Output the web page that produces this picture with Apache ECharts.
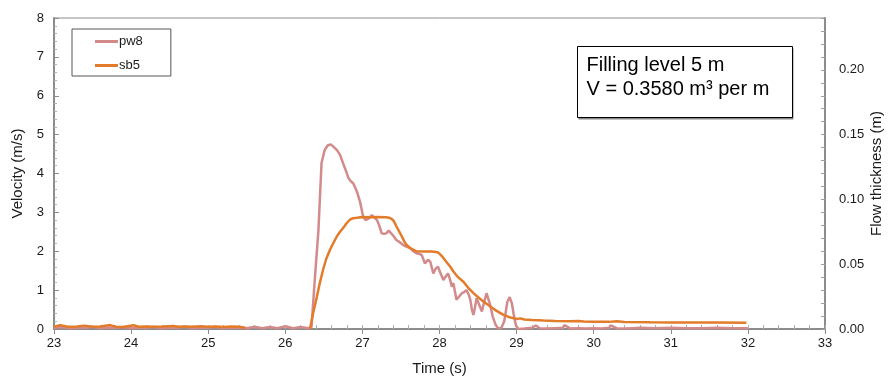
<!DOCTYPE html>
<html>
<head>
<meta charset="utf-8">
<script src="https://cdn.jsdelivr.net/npm/echarts@6/dist/echarts.min.js"></script>
<style>
html,body{margin:0;padding:0;background:#fff;overflow:hidden;}
#chart{width:890px;height:377px;}
</style>
</head>
<body>
<div id="chart"></div>
<script>
// ---- Data ----
const seriesNames = ['pw8', 'sb5'];
const xTicks = [23, 24, 25, 26, 27, 28, 29, 30, 31, 32, 33];
const leftTicks = [0, 1, 2, 3, 4, 5, 6, 7, 8];
const rightTicks = [0.00, 0.05, 0.10, 0.15, 0.20];

// pw8: velocity (m/s) vs time (s)
const pw8Time = [
  23.0, 23.1, 23.2, 23.3, 23.4, 23.5, 23.6, 23.7, 23.8, 23.9,
  24.0, 24.1, 24.2, 24.3, 24.4, 24.5, 24.6, 24.7, 24.8, 24.9,
  25.0, 25.1, 25.2, 25.3, 25.4, 25.5, 25.6, 25.7, 25.8, 25.9,
  26.0, 26.1, 26.2, 26.3,
  26.34, 26.38, 26.43, 26.47, 26.51, 26.55, 26.59, 26.63, 26.67, 26.71,
  26.75, 26.79, 26.82, 26.85, 26.88, 26.91, 26.93, 26.97, 27.01, 27.04,
  27.06, 27.09, 27.12, 27.15, 27.19, 27.22, 27.25, 27.28, 27.31, 27.34,
  27.36, 27.40, 27.44, 27.48, 27.53, 27.57, 27.62, 27.66, 27.70, 27.74,
  27.77, 27.81, 27.85, 27.88, 27.92, 27.95, 27.98, 28.02, 28.05, 28.08,
  28.11, 28.14, 28.16, 28.18, 28.20, 28.22, 28.26, 28.29, 28.32, 28.35,
  28.38, 28.40, 28.42, 28.44, 28.46, 28.48, 28.52, 28.55, 28.58, 28.61,
  28.63, 28.66, 28.69, 28.73, 28.76, 28.80, 28.84, 28.88, 28.91, 28.94,
  28.96, 28.99, 29.02,
  29.1, 29.2, 29.25, 29.3, 29.4, 29.5, 29.6, 29.62, 29.7, 29.8,
  29.9, 30.0, 30.1, 30.2, 30.22, 30.3, 30.4, 30.5, 30.6, 30.8,
  31.0, 31.2, 31.4, 31.6, 31.8, 32.0
];
const pw8Vel = [
  0.03, 0.05, 0.02, 0.04, 0.03, 0.06, 0.02, 0.04, 0.03, 0.05,
  0.02, 0.04, 0.03, 0.05, 0.02, 0.04, 0.03, 0.06, 0.02, 0.04,
  0.03, 0.05, 0.02, 0.04, 0.03, 0.02, 0.06, 0.02, 0.05, 0.02,
  0.07, 0.02, 0.05, 0.02,
  0.05, 1.20, 2.55, 4.27, 4.60, 4.72, 4.75, 4.68, 4.60, 4.48,
  4.26, 4.05, 3.88, 3.80, 3.75, 3.62, 3.53, 3.27, 2.89, 2.80,
  2.76, 2.85, 2.93, 2.88, 2.80, 2.65, 2.46, 2.45, 2.46, 2.53,
  2.55, 2.40, 2.29, 2.24, 2.16, 2.12, 2.08, 2.00, 1.95, 1.93,
  1.90, 1.69, 1.78, 1.73, 1.43, 1.55, 1.60, 1.40, 1.26, 1.35,
  1.43, 1.25, 1.09, 1.18, 1.22, 0.75, 0.85, 0.92, 0.95, 1.00,
  0.88, 0.75, 0.50, 0.36, 0.55, 0.79, 0.60, 0.45, 0.70, 0.92,
  0.90, 0.60, 0.32, 0.10, 0.02, 0.02, 0.20, 0.70, 0.82, 0.65,
  0.40, 0.10, 0.00,
  0.01, 0.03, 0.09, 0.02, 0.01, 0.02, 0.03, 0.10, 0.01, 0.02,
  0.01, 0.02, 0.01, 0.03, 0.09, 0.02, 0.01, 0.02, 0.03, 0.02,
  0.03, 0.02, 0.02, 0.03, 0.02, 0.02
];

// sb5: flow thickness (m) vs time (s); null = no data (line break)
const sb5Time = [
  23.0, 23.08, 23.2, 23.3, 23.4, 23.5, 23.6, 23.73, 23.8, 23.9,
  24.03, 24.1, 24.2, 24.3, 24.4, 24.55, 24.6, 24.7, 24.8, 24.9,
  25.0, 25.1, 25.2, 25.3, 25.4, 25.48, 25.6,
  26.32, 26.36, 26.41, 26.45, 26.49, 26.53, 26.58, 26.62, 26.67, 26.71,
  26.75, 26.80, 26.84, 26.88, 26.93, 27.0, 27.1, 27.2, 27.3, 27.35,
  27.38, 27.41, 27.44, 27.48, 27.51, 27.54, 27.57, 27.62, 27.66, 27.70,
  27.8, 27.9, 27.95, 27.98, 28.02, 28.05, 28.10, 28.14, 28.18, 28.24,
  28.31, 28.37, 28.44, 28.50, 28.57, 28.65, 28.74, 28.83, 28.92, 29.0,
  29.05, 29.1, 29.2, 29.35, 29.5, 29.7, 29.8, 29.87, 30.0, 30.2,
  30.3, 30.4, 30.73, 31.0, 31.3, 31.6, 31.98
];
const sb5Thick = [
  0.0018, 0.0030, 0.0016, 0.0019, 0.0026, 0.0017, 0.0020, 0.0030, 0.0018, 0.0016,
  0.0029, 0.0018, 0.0020, 0.0017, 0.0019, 0.0024, 0.0018, 0.0020, 0.0017, 0.0022,
  0.0018, 0.0020, 0.0016, 0.0019, 0.0018, 0.0010, null,
  0.0000, 0.0120, 0.0250, 0.0360, 0.0457, 0.0540, 0.0612, 0.0660, 0.0716, 0.0750,
  0.0780, 0.0820, 0.0845, 0.0855, 0.0858, 0.0865, 0.0863, 0.0865, 0.0862, 0.0858,
  0.0850, 0.0830, 0.0793, 0.0750, 0.0716, 0.0680, 0.0650, 0.0625, 0.0612, 0.0600,
  0.0598, 0.0598, 0.0595, 0.0590, 0.0570, 0.0548, 0.0510, 0.0480, 0.0444, 0.0400,
  0.0365, 0.0320, 0.0277, 0.0245, 0.0212, 0.0178, 0.0140, 0.0109, 0.0088, 0.0078,
  0.0082, 0.0073, 0.0069, 0.0065, 0.0062, 0.0059, 0.0062, 0.0057, 0.0056, 0.0055,
  0.0060, 0.0054, 0.0052, 0.0051, 0.0050, 0.0050, 0.0049
];

// ---- Build ----
const pw8Data = pw8Time.map((t, i) => [t, pw8Vel[i]]);
const sb5Data = sb5Time.map((t, i) => [t, sb5Thick[i]]);

const FONT = '"Liberation Sans", Arial, sans-serif';
const AXIS_GRAY = '#8c8c8c';
const TXT = '#1a1a1a';
const PINK = '#d38a8b';
const ORANGE = '#e27b2a';

const chart = echarts.init(document.getElementById('chart'), null, {renderer: 'canvas', width: 890, height: 377});
chart.setOption({
  animation: false,
  backgroundColor: '#fff',
  textStyle: {fontFamily: FONT},
  grid: {left: 54, right: 65, top: 18, bottom: 48, show: true, borderColor: AXIS_GRAY, borderWidth: 1,
         containLabel: false, outerBoundsMode: 'none'},
  legend: {
    data: [
      {name: seriesNames[0], icon: 'rect', itemStyle: {color: PINK}},
      {name: seriesNames[1], icon: 'rect', itemStyle: {color: ORANGE}}
    ],
    orient: 'vertical',
    left: 72, top: 29,
    padding: [6, 28, 4, 23],
    itemGap: 11,
    itemWidth: 23, itemHeight: 3,
    borderColor: '#555', borderWidth: 1,
    backgroundColor: '#fff',
    textStyle: {fontFamily: FONT, fontSize: 13, color: TXT, padding: [0, 0, 0, -4]}
  },
  xAxis: [{
    type: 'value', min: xTicks[0], max: xTicks[xTicks.length - 1], interval: 1,
    position: 'bottom',
    name: 'Time (s)', nameLocation: 'middle', nameGap: 32,
    nameTextStyle: {fontFamily: FONT, fontSize: 15, color: TXT},
    axisLine: {show: true, onZero: false, lineStyle: {color: AXIS_GRAY, width: 2}},
    axisTick: {show: true, inside: false, length: 5, lineStyle: {color: AXIS_GRAY, width: 1}},
    axisLabel: {fontFamily: FONT, fontSize: 13, color: TXT, margin: 8},
    splitLine: {show: false}
  }, {
    type: 'value', min: xTicks[0], max: xTicks[xTicks.length - 1], interval: 0.2,
    position: 'bottom',
    axisLine: {show: false, onZero: false},
    axisTick: {show: true, inside: true, length: 4, lineStyle: {color: '#b0b0b0', width: 1}},
    axisLabel: {show: false},
    splitLine: {show: false}
  }],
  yAxis: [{
    type: 'value', min: leftTicks[0], max: leftTicks[leftTicks.length - 1], interval: 1,
    position: 'left',
    name: 'Velocity (m/s)', nameLocation: 'middle', nameGap: 29, nameRotate: 90,
    nameTextStyle: {fontFamily: FONT, fontSize: 15, color: TXT},
    axisLine: {show: true, lineStyle: {color: AXIS_GRAY, width: 2}},
    axisTick: {show: true, inside: true, length: 5, lineStyle: {color: AXIS_GRAY}},
    minorTick: {show: true, splitNumber: 5, length: 3, lineStyle: {color: '#b0b0b0'}},
    axisLabel: {fontFamily: FONT, fontSize: 13, color: TXT, margin: 10},
    splitLine: {show: false}
  }, {
    type: 'value', min: 0, max: 0.24, interval: 0.01,
    position: 'right',
    name: 'Flow thickness (m)', nameLocation: 'middle', nameGap: 44, nameRotate: 90,
    nameMoveOverlap: false,
    nameTextStyle: {fontFamily: FONT, fontSize: 15, color: TXT},
    axisLine: {show: true, lineStyle: {color: AXIS_GRAY, width: 2}},
    axisTick: {show: true, inside: true, length: 4, lineStyle: {color: '#a0a0a0'}},
    axisLabel: {
      fontFamily: FONT, fontSize: 13, color: TXT, margin: 14,
      formatter: function (v) {
        return rightTicks.some(r => Math.abs(r - v) < 1e-6) ? v.toFixed(2) : '';
      }
    },
    splitLine: {show: false}
  }],
  series: [{
    name: seriesNames[0], type: 'line', xAxisIndex: 0, yAxisIndex: 0,
    data: pw8Data, showSymbol: false, symbol: 'none', smooth: false,
    lineStyle: {color: PINK, width: 2.5}, itemStyle: {color: PINK},
    z: 2
  }, {
    name: seriesNames[1], type: 'line', xAxisIndex: 0, yAxisIndex: 1,
    data: sb5Data, showSymbol: false, symbol: 'none', smooth: false, connectNulls: false,
    lineStyle: {color: ORANGE, width: 2.5}, itemStyle: {color: ORANGE},
    z: 3
  }],
  graphic: [{
    type: 'group', left: 577, top: 46,
    children: [{
      type: 'rect', shape: {x: 1, y: 2, width: 215, height: 71},
      style: {fill: '#888', stroke: null}
    }, {
      type: 'rect', shape: {x: 0, y: 0, width: 215, height: 71},
      style: {fill: '#fff', stroke: '#000', lineWidth: 1}
    }, {
      type: 'text', left: 9, top: 7,
      style: {
        text: 'Filling level 5 m\nV = 0.3580 m³ per m',
        font: '20px ' + FONT, fill: '#000', lineHeight: 24
      }
    }]
  }]
});
</script>
</body>
</html>
